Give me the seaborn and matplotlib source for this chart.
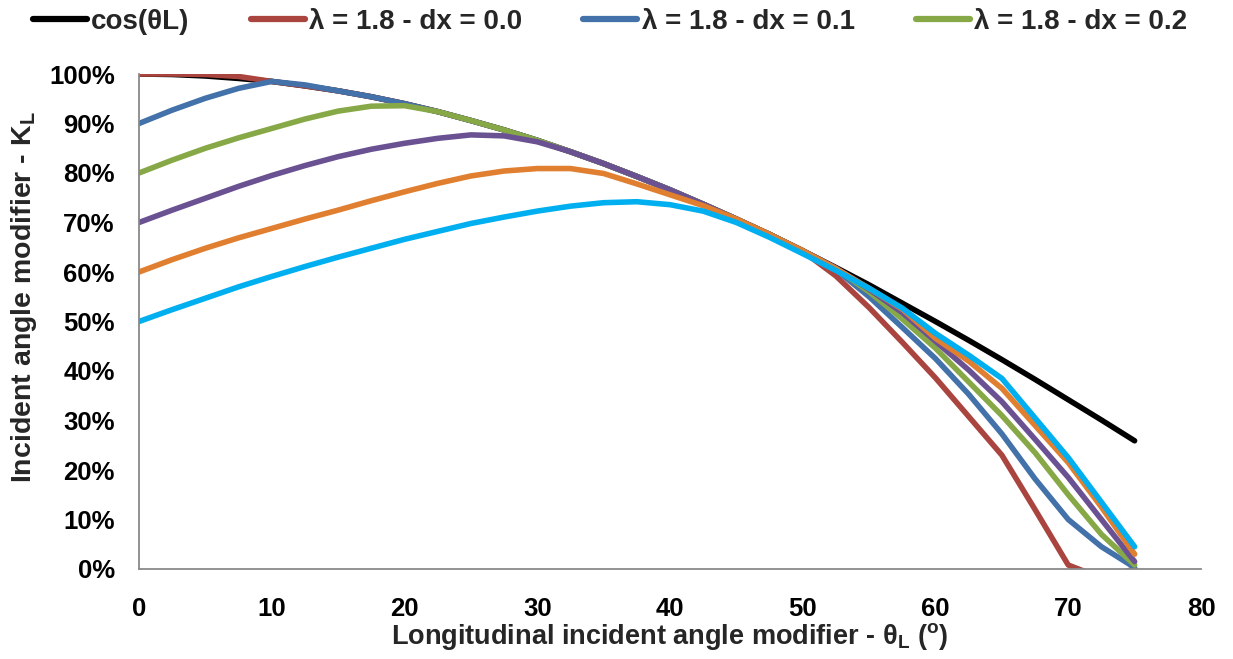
import matplotlib
matplotlib.use("Agg")
import matplotlib.pyplot as plt
import seaborn as sns
import pandas as pd

# ---------------- data ----------------
angles = [0, 2.5, 5, 7.5, 10, 12.5, 15, 17.5, 20, 22.5, 25, 27.5, 30, 32.5, 35,
          37.5, 40, 42.5, 45, 47.5, 50, 52.5, 55, 57.5, 60, 62.5, 65, 67.5, 70,
          72.5, 75]

cos_theta = [1.000, 0.999, 0.996, 0.991, 0.985, 0.976, 0.966, 0.954, 0.940, 0.924,
             0.906, 0.887, 0.866, 0.843, 0.819, 0.793, 0.766, 0.737, 0.707, 0.676,
             0.643, 0.609, 0.574, 0.537, 0.500, 0.462, 0.423, 0.383, 0.342, 0.301,
             0.259]

dx_00 = [1.000, 1.000, 0.999, 0.995, 0.985, 0.976, 0.966, 0.954, 0.940, 0.924,
         0.906, 0.887, 0.866, 0.843, 0.819, 0.793, 0.766, 0.737, 0.707, 0.676,
         0.642, 0.592, 0.528, 0.458, 0.386, 0.308, 0.230, 0.120, 0.008, -0.018,
         0.000]

dx_01 = [0.900, 0.927, 0.951, 0.971, 0.985, 0.978, 0.966, 0.954, 0.940, 0.924,
         0.906, 0.887, 0.866, 0.843, 0.819, 0.793, 0.766, 0.737, 0.707, 0.676,
         0.643, 0.605, 0.550, 0.488, 0.425, 0.353, 0.273, 0.182, 0.100, 0.045,
         0.003]

dx_02 = [0.800, 0.826, 0.850, 0.871, 0.890, 0.909, 0.925, 0.935, 0.936, 0.924,
         0.906, 0.887, 0.866, 0.843, 0.819, 0.793, 0.766, 0.737, 0.707, 0.676,
         0.643, 0.607, 0.560, 0.505, 0.446, 0.378, 0.310, 0.235, 0.150, 0.070,
         0.008]

dx_03 = [0.700, 0.725, 0.749, 0.773, 0.795, 0.815, 0.833, 0.848, 0.860, 0.870,
         0.877, 0.875, 0.863, 0.843, 0.819, 0.793, 0.766, 0.737, 0.707, 0.676,
         0.643, 0.608, 0.565, 0.518, 0.460, 0.402, 0.338, 0.262, 0.185, 0.100,
         0.015]

dx_04 = [0.600, 0.625, 0.648, 0.669, 0.688, 0.707, 0.725, 0.744, 0.762, 0.779,
         0.794, 0.804, 0.809, 0.809, 0.799, 0.778, 0.756, 0.734, 0.707, 0.676,
         0.643, 0.607, 0.567, 0.525, 0.466, 0.420, 0.365, 0.290, 0.215, 0.125,
         0.030]

dx_05 = [0.500, 0.524, 0.547, 0.570, 0.591, 0.611, 0.630, 0.648, 0.666, 0.682,
         0.698, 0.711, 0.723, 0.733, 0.740, 0.742, 0.736, 0.723, 0.700, 0.670,
         0.637, 0.603, 0.567, 0.527, 0.476, 0.432, 0.385, 0.305, 0.225, 0.135,
         0.045]

legend_labels = ["cos(θL)", "λ = 1.8 - dx = 0.0", "λ = 1.8 - dx = 0.1", "λ = 1.8 - dx = 0.2"]
series_values = [cos_theta, dx_00, dx_01, dx_02, dx_03, dx_04, dx_05]
series_names = legend_labels + ["λ = 1.8 - dx = 0.3", "λ = 1.8 - dx = 0.4", "λ = 1.8 - dx = 0.5"]
series_colors = ["#000000", "#A9443F", "#4371A9", "#87A846", "#6A5192", "#E07F30", "#00AFEF"]

x_ticks = [0, 10, 20, 30, 40, 50, 60, 70, 80]
y_ticks = [0.0, 0.1, 0.2, 0.3, 0.4, 0.5, 0.6, 0.7, 0.8, 0.9, 1.0]
y_tick_labels = ["0%", "10%", "20%", "30%", "40%", "50%", "60%", "70%", "80%", "90%", "100%"]

x_label = "Longitudinal incident angle modifier - θ$_{\\mathrm{L}}$ ($^{\\mathrm{o}}$)"
y_label = "Incident angle modifier - K$_{\\mathrm{L}}$"

# ---------------- figure ----------------
sns.set_theme(style="white")
FONT = "Liberation Sans"
plt.rcParams["font.family"] = [FONT, "DejaVu Sans"]
plt.rcParams["font.weight"] = "bold"
plt.rcParams["mathtext.fontset"] = "custom"
plt.rcParams["mathtext.rm"] = FONT + ":bold"
plt.rcParams["mathtext.it"] = FONT + ":bold"
plt.rcParams["mathtext.bf"] = FONT + ":bold"

W, H = 1233, 659
fig = plt.figure(figsize=(W / 100, H / 100), dpi=100)
ax = fig.add_axes([139 / W, 1 - 569 / H, (1201 - 139) / W, (569 - 74) / H])

frames = []
for name, vals in zip(series_names, series_values):
    frames.append(pd.DataFrame({"angle": angles, "value": vals, "series": name}))
df = pd.concat(frames, ignore_index=True)

for name, color in zip(series_names, series_colors):
    sub = df[df["series"] == name]
    sns.lineplot(data=sub, x="angle", y="value", ax=ax, color=color, linewidth=4.0,
                 sort=False, legend=False, solid_capstyle="round", solid_joinstyle="round")

ax.set_xlim(0, 80)
ax.set_ylim(0, 1)
ax.set_xticks(x_ticks)
ax.set_xticklabels([str(t) for t in x_ticks])
ax.set_yticks(y_ticks)
ax.set_yticklabels(y_tick_labels)

for side in ["top", "right"]:
    ax.spines[side].set_visible(False)
for side in ["left", "bottom"]:
    ax.spines[side].set_color("#898989")
    ax.spines[side].set_linewidth(1.3)
ax.tick_params(axis="both", which="major", direction="out", length=6.5, width=1.3,
               color="#898989", labelsize=18.5, labelcolor="black")
ax.tick_params(axis="y", pad=11)
ax.tick_params(axis="x", pad=14)
for lab in ax.get_xticklabels() + ax.get_yticklabels():
    lab.set_fontweight("bold")

ax.set_xlabel(x_label, fontsize=19.5, fontweight="bold")
ax.set_ylabel(y_label, fontsize=20.5, fontweight="bold")
ax.xaxis.label.set_va("center")
ax.yaxis.label.set_va("center")
ax.xaxis.set_label_coords(0.5, (569 - 637) / 495)
ax.yaxis.set_label_coords((24 - 139) / 1062, (569 - 297) / 495)

lines = ax.get_lines()[:4]
leg = fig.legend(lines, legend_labels, loc="center", bbox_to_anchor=(610 / W, 1 - 22 / H),
                 ncol=4, frameon=False, handlelength=1.95, handletextpad=0.15,
                 columnspacing=2.2, prop={"family": [FONT, "DejaVu Sans"], "weight": "bold", "size": 20})
for h in leg.get_lines():
    h.set_linewidth(4.5)
    h.set_solid_capstyle("round")

fig.savefig("out.png", dpi=100)
